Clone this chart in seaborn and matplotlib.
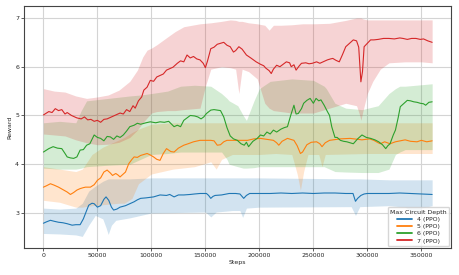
import numpy as np
import pandas as pd
import matplotlib
matplotlib.use("Agg")
import matplotlib.pyplot as plt
import seaborn as sns

# steps are in thousands
steps_4 = [0, 3, 6.5, 10, 14, 18, 22, 26.6, 30, 34, 37, 40, 42, 45, 47, 50, 53, 56, 58, 60.5, 63, 65, 68, 71, 76, 80,
           84, 87, 90, 95, 102, 108, 114, 117, 121, 125, 130, 136, 140, 145, 151, 153, 155, 157, 159, 165, 172, 178,
           182, 185.5, 188, 191, 200, 210, 220, 230, 240, 250, 260, 270, 280, 286.7, 289, 291, 294, 297, 300, 310,
           320, 330, 340, 350, 360]
reward_4 = [2.79, 2.82, 2.85, 2.83, 2.81, 2.80, 2.78, 2.75, 2.76, 2.76, 2.88, 3.05, 3.16, 3.20, 3.19, 3.12, 3.15, 3.28,
            3.33, 3.26, 3.12, 3.06, 3.08, 3.12, 3.15, 3.19, 3.23, 3.27, 3.30, 3.31, 3.33, 3.37, 3.36, 3.38, 3.33, 3.37,
            3.37, 3.38, 3.39, 3.40, 3.40, 3.36, 3.30, 3.34, 3.36, 3.37, 3.40, 3.40, 3.39, 3.30, 3.36, 3.40, 3.40, 3.40,
            3.41, 3.40, 3.41, 3.40, 3.41, 3.41, 3.40, 3.40, 3.24, 3.30, 3.36, 3.39, 3.40, 3.40, 3.40, 3.41, 3.40, 3.39,
            3.38]

steps_5 = [0, 3, 6.5, 10, 14, 18, 22, 25, 28, 31, 34, 37, 39, 43.5, 47, 50, 53, 56, 59, 62, 64, 67, 69, 71, 74, 76, 79,
           82, 84, 87, 90, 93, 96, 99, 102, 105, 108, 111, 114, 118, 121, 125, 130, 134, 139, 145, 150, 155, 158, 161,
           164, 167, 170, 175, 180, 189, 195, 201, 207, 213, 216, 218, 221, 226, 232, 235, 238, 240, 244, 248, 253,
           256, 258, 261, 265, 275, 284, 295, 302, 306, 310, 312, 316, 321, 326, 330.5, 335, 340, 346, 350, 355, 360]
reward_5 = [3.53, 3.56, 3.60, 3.57, 3.53, 3.48, 3.43, 3.38, 3.42, 3.47, 3.50, 3.52, 3.53, 3.53, 3.58, 3.67, 3.72, 3.84,
            3.88, 3.82, 3.77, 3.81, 3.78, 3.74, 3.80, 3.84, 4.01, 4.10, 4.15, 4.14, 4.18, 4.20, 4.22, 4.19, 4.15, 4.10,
            4.08, 4.22, 4.32, 4.26, 4.25, 4.33, 4.39, 4.42, 4.46, 4.49, 4.49, 4.49, 4.48, 4.39, 4.40, 4.46, 4.49, 4.49,
            4.49, 4.49, 4.52, 4.53, 4.51, 4.49, 4.44, 4.39, 4.47, 4.53, 4.49, 4.38, 4.22, 4.25, 4.40, 4.45, 4.46, 4.42,
            4.36, 4.44, 4.49, 4.52, 4.53, 4.50, 4.52, 4.49, 4.44, 4.42, 4.46, 4.42, 4.46, 4.48, 4.50, 4.47, 4.46, 4.49,
            4.46, 4.48]

steps_6 = [0, 5, 9, 13, 17, 20, 22, 25, 28, 31, 34, 37, 40, 43, 47, 50, 53, 56, 59, 62, 65, 68, 71, 74, 77, 80, 84, 87,
           90, 95, 99, 104, 108, 112, 116, 121, 124, 127, 130, 133, 136, 140, 143, 146, 148.5, 151, 155, 158, 161, 164,
           167, 170, 173, 176, 179.6, 183, 186, 188, 190, 194, 198, 201, 204, 207, 210, 213, 216, 220, 223, 226, 229,
           232, 234, 236, 239, 241, 244, 247, 250, 252.5, 255, 257, 260, 263, 265, 267, 270, 272, 275, 278, 281, 284,
           287, 291, 295, 299, 303, 307, 310.5, 314, 317, 319, 321, 324, 326, 328.5, 330.5, 334, 337, 340, 343, 346,
           349, 352, 354, 357, 360]
reward_6 = [4.25, 4.32, 4.36, 4.33, 4.32, 4.22, 4.15, 4.13, 4.12, 4.15, 4.29, 4.30, 4.39, 4.42, 4.60, 4.55, 4.53, 4.48,
            4.57, 4.56, 4.51, 4.58, 4.55, 4.60, 4.68, 4.77, 4.80, 4.84, 4.82, 4.85, 4.87, 4.85, 4.87, 4.86, 4.88, 4.77,
            4.80, 4.77, 4.90, 4.95, 5.00, 4.99, 4.97, 4.93, 4.97, 5.04, 5.11, 5.12, 5.11, 5.10, 4.97, 4.75, 4.58, 4.52,
            4.49, 4.42, 4.39, 4.45, 4.36, 4.47, 4.53, 4.60, 4.58, 4.66, 4.62, 4.70, 4.66, 4.72, 4.75, 4.77, 5.00, 5.21,
            5.03, 5.04, 5.14, 5.25, 5.31, 5.35, 5.25, 5.35, 5.30, 5.32, 5.21, 5.08, 5.00, 4.77, 4.55, 4.55, 4.49, 4.47,
            4.46, 4.44, 4.42, 4.52, 4.60, 4.55, 4.53, 4.50, 4.46, 4.40, 4.32, 4.38, 4.42, 4.60, 4.70, 4.95, 5.18, 5.25,
            5.31, 5.30, 5.28, 5.27, 5.25, 5.24, 5.21, 5.27, 5.28]

steps_7 = [0, 5, 8, 11, 14, 17, 20, 22, 26, 31, 35, 38, 41, 44, 47, 50, 53, 56, 59, 63, 66, 68, 71, 74, 77, 80, 83, 85,
           88, 91, 93, 96, 99, 102, 105, 108, 111, 114, 117, 120, 124, 127, 130, 133, 136, 139, 142, 145, 148, 150,
           152, 155, 158, 161, 164, 167, 170, 173, 176, 178, 181, 184, 188, 192, 197, 201, 204, 206, 209, 211, 213,
           216, 219, 222, 225, 228, 229.5, 232, 234, 237, 239, 243, 246, 249, 253, 256, 259, 263, 266, 268, 271, 274,
           277, 280, 283, 287, 290, 292, 294, 295.5, 297, 300, 303, 306, 310, 315, 320, 325, 330, 333, 337, 341, 345,
           349, 352, 356, 360]
reward_7 = [5.01, 5.08, 5.06, 5.14, 5.10, 5.12, 5.03, 5.06, 5.00, 4.95, 4.93, 4.97, 4.91, 4.92, 4.88, 4.90, 4.86, 4.92,
            4.93, 4.97, 5.00, 5.02, 5.05, 5.03, 5.12, 5.08, 5.20, 5.15, 5.30, 5.38, 5.52, 5.58, 5.72, 5.70, 5.79, 5.82,
            5.85, 5.93, 5.96, 5.99, 6.07, 6.12, 6.10, 6.24, 6.18, 6.21, 6.16, 6.14, 6.07, 5.98, 6.12, 6.37, 6.40, 6.46,
            6.48, 6.50, 6.44, 6.41, 6.30, 6.33, 6.41, 6.36, 6.24, 6.18, 6.10, 6.05, 6.02, 5.97, 5.92, 5.86, 5.95, 6.03,
            6.00, 6.05, 6.10, 6.08, 6.00, 6.04, 5.93, 6.02, 6.07, 6.08, 6.06, 6.07, 6.10, 6.07, 6.10, 6.14, 6.16, 6.17,
            6.13, 6.10, 6.25, 6.41, 6.47, 6.55, 6.53, 6.40, 5.69, 5.90, 6.41, 6.48, 6.55, 6.55, 6.56, 6.58, 6.58, 6.57,
            6.59, 6.58, 6.56, 6.58, 6.58, 6.56, 6.57, 6.53, 6.50]

# shaded bands (steps in thousands)
band_steps_4 = [0, 15, 30, 36, 42, 48, 55, 58, 60, 63, 67, 80, 100, 150, 155, 160, 175, 182, 184.5, 188, 200, 285, 289,
                293, 320, 335, 345, 350, 360]
band_hi_4 = [3.1, 3.08, 3.1, 3.2, 3.45, 3.55, 3.65, 3.68, 3.7, 3.7, 3.7, 3.7, 3.72, 3.72, 3.72, 3.72, 3.72, 3.72, 3.72,
             3.72, 3.72, 3.7, 3.7, 3.7, 3.68, 3.68, 3.68, 3.68, 3.68]
band_lo_4 = [2.58, 2.57, 2.55, 2.52, 2.75, 2.95, 2.88, 2.7, 2.56, 2.75, 2.85, 2.9, 3.0, 3.02, 2.92, 3.02, 3.05, 3.05,
             2.91, 3.1, 3.12, 3.13, 2.95, 3.13, 3.15, 3.12, 2.95, 3.1, 3.15]

band_steps_5 = [0, 15, 30, 36, 45, 55, 60, 70, 75, 82, 88, 100, 120, 140, 155, 160, 165, 175, 200, 215, 230, 235, 238,
                241, 245, 255, 258, 261, 300, 330, 360]
band_hi_5 = [3.95, 3.9, 3.85, 3.9, 4.2, 4.35, 4.4, 4.5, 4.55, 4.65, 4.72, 4.82, 4.85, 4.85, 4.85, 4.85, 4.85, 4.85,
             4.85, 4.85, 4.85, 4.85, 4.85, 4.85, 4.85, 4.85, 4.85, 4.85, 4.85, 4.85, 4.85]
band_lo_5 = [3.26, 3.22, 3.12, 3.12, 3.15, 3.17, 3.18, 3.2, 3.2, 3.3, 3.6, 3.8, 3.9, 3.95, 4.05, 3.9, 4.1, 4.2, 4.2,
             4.22, 4.2, 3.8, 3.47, 3.85, 4.2, 4.2, 3.95, 4.2, 4.22, 4.22, 4.22]

band_steps_6 = [0, 15, 30, 35, 40, 60, 80, 90, 100, 115, 127, 140, 155, 165, 170, 172, 180, 185, 188, 195, 200, 210,
                230, 250, 260, 262, 270, 280, 295, 310, 320, 326, 330, 335, 345, 360]
band_hi_6 = [4.85, 4.88, 4.85, 5.1, 5.3, 5.35, 5.40, 5.42, 5.45, 5.5, 5.6, 5.62, 5.6, 5.45, 5.35, 5.3, 5.2, 5.0, 4.9,
             5.3, 5.55, 5.7, 5.75, 5.72, 5.6, 5.55, 5.25, 5.15, 5.12, 5.2, 5.45, 5.55, 5.6, 5.6, 5.62, 5.65]
band_lo_6 = [3.92, 3.9, 3.9, 3.92, 3.95, 3.98, 4.0, 4.1, 4.2, 4.22, 4.25, 4.25, 4.25, 4.25, 4.1, 4.0, 3.95, 3.92, 3.92,
             3.93, 3.95, 3.95, 3.95, 3.95, 3.95, 3.93, 3.85, 3.84, 3.83, 3.83, 3.9, 4.2, 4.25, 4.3, 4.3, 4.3]

band_steps_7 = [0, 10, 20, 30, 40, 50, 60, 70, 80, 87, 92, 96, 100, 105, 115, 122, 130, 140, 145, 150, 155, 165, 173,
                178, 181, 184, 190, 198, 205, 209, 213, 220, 230, 240, 250, 265, 280, 290, 293, 294, 296, 300, 305,
                312, 320, 335, 350, 360]
band_hi_7 = [5.55, 5.50, 5.48, 5.40, 5.35, 5.38, 5.42, 5.52, 5.70, 5.93, 6.2, 6.34, 6.38, 6.45, 6.61, 6.72, 6.82, 6.86,
             6.88, 6.89, 6.9, 6.93, 6.96, 6.95, 6.93, 6.93, 6.90, 6.88, 6.85, 6.75, 6.85, 6.85, 6.86, 6.88, 6.88, 6.89,
             6.95, 7.0, 7.0, 7.0, 6.98, 6.96, 6.96, 6.96, 6.96, 6.96, 6.96, 6.96]
band_lo_7 = [4.62, 4.6, 4.58, 4.5, 4.44, 4.40, 4.41, 4.45, 4.55, 4.7, 4.85, 4.95, 5.05, 5.08, 5.10, 5.1, 5.12, 5.14,
             5.15, 5.6, 5.95, 6.0, 5.98, 5.95, 5.45, 5.95, 5.9, 5.75, 5.25, 5.15, 5.1, 5.08, 5.05, 5.05, 5.05, 5.15,
             5.25, 5.2, 5.0, 4.9, 5.1, 5.45, 5.7, 5.95, 6.08, 6.1, 6.1, 6.08]

labels = ["4 (PPO)", "5 (PPO)", "6 (PPO)", "7 (PPO)"]
colors = sns.color_palette("tab10", 4)

series = [(steps_4, reward_4), (steps_5, reward_5), (steps_6, reward_6), (steps_7, reward_7)]
bands = [(band_steps_4, band_lo_4, band_hi_4), (band_steps_5, band_lo_5, band_hi_5),
         (band_steps_6, band_lo_6, band_hi_6), (band_steps_7, band_lo_7, band_hi_7)]

frames = []
for lab, (s, r) in zip(labels, series):
    frames.append(pd.DataFrame({"Steps": np.array(s) * 1000, "Reward": r, "Max Circuit Depth": lab}))
df = pd.concat(frames, ignore_index=True)

sns.set_style("whitegrid")
plt.rcParams["font.family"] = ["DejaVu Sans"]
fs = 4.5

fig, ax = plt.subplots(figsize=(4.59, 2.75), dpi=100)

for (bs, lo, hi), c in zip(bands, colors):
    ax.fill_between(np.array(bs) * 1000, lo, hi, color=c, alpha=0.2, linewidth=0)

sns.lineplot(data=df, x="Steps", y="Reward", hue="Max Circuit Depth", hue_order=labels,
             palette=colors, estimator=None, errorbar=None, linewidth=0.8, ax=ax)

ax.set_xlim(-17975, 377475)
ax.set_ylim(2.281, 7.244)
ax.set_xticks(range(0, 350001, 50000))
ax.set_yticks([3, 4, 5, 6, 7])
ax.tick_params(labelsize=fs, length=2, width=0.6, color="#444444", pad=1.5, bottom=True, left=True)
ax.set_xlabel("Steps", fontsize=fs, labelpad=1.5)
ax.set_ylabel("Reward", fontsize=fs, labelpad=2)
ax.grid(True, color="#d4d4d4", linewidth=0.8)
for sp in ax.spines.values():
    sp.set_color("#444444")
    sp.set_linewidth(0.8)

sns.move_legend(ax, "lower right", title="Max Circuit Depth", fontsize=fs, title_fontsize=fs,
                frameon=True, labelspacing=0.3, borderaxespad=0.3, handlelength=2.4)
leg = ax.get_legend()
leg.get_frame().set_edgecolor("#cccccc")
for line in leg.get_lines():
    line.set_linewidth(1.3)

fig.subplots_adjust(left=0.0523, right=0.9826, top=0.978, bottom=0.098)
fig.savefig("out.png", dpi=100)
